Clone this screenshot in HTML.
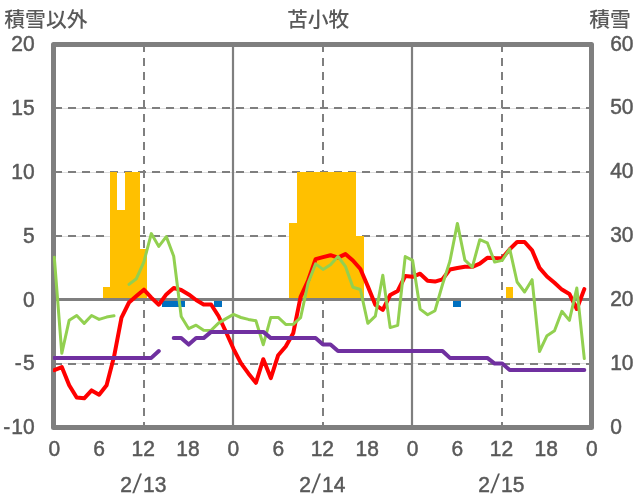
<!DOCTYPE html>
<html lang="ja">
<head>
<meta charset="utf-8">
<title>苫小牧</title>
<style>
html,body{margin:0;padding:0;background:#fff;}
body{width:636px;height:501px;overflow:hidden;font-family:"Liberation Sans","Noto Sans CJK JP",sans-serif;}
svg{display:block;}
</style>
</head>
<body>
<svg width="636" height="501" viewBox="0 0 636 501">
<rect width="636" height="501" fill="#fff"/>
<line x1="54" x2="591" y1="108.5" y2="108.5" stroke="#dedede" stroke-width="1"/>
<line x1="54" x2="591" y1="108" y2="108" stroke="#7f7f7f" stroke-width="2" stroke-dasharray="8 6"/>
<line x1="54" x2="591" y1="172.5" y2="172.5" stroke="#dedede" stroke-width="1"/>
<line x1="54" x2="591" y1="172" y2="172" stroke="#7f7f7f" stroke-width="2" stroke-dasharray="8 6"/>
<line x1="54" x2="591" y1="236.5" y2="236.5" stroke="#dedede" stroke-width="1"/>
<line x1="54" x2="591" y1="236" y2="236" stroke="#7f7f7f" stroke-width="2" stroke-dasharray="8 6"/>
<line x1="54" x2="591" y1="363.5" y2="363.5" stroke="#dedede" stroke-width="1"/>
<line x1="54" x2="591" y1="364" y2="364" stroke="#7f7f7f" stroke-width="2" stroke-dasharray="8 6"/>
<line x1="144" x2="144" y1="44" y2="427" stroke="#7f7f7f" stroke-width="2" stroke-dasharray="8 6"/>
<line x1="323" x2="323" y1="44" y2="427" stroke="#7f7f7f" stroke-width="2" stroke-dasharray="8 6"/>
<line x1="502" x2="502" y1="44" y2="427" stroke="#7f7f7f" stroke-width="2" stroke-dasharray="8 6"/>
<line x1="233" x2="233" y1="44" y2="427" stroke="#7f7f7f" stroke-width="2.2"/>
<line x1="412" x2="412" y1="44" y2="427" stroke="#7f7f7f" stroke-width="2.2"/>
<path d="M103,300H110V287H103ZM110,300H117V172H110ZM117,300H125V210H117ZM125,300H132V172H125ZM132,300H140V172H132ZM140,300H147V249H140ZM289,300H297V223H289ZM297,300H304V172H297ZM304,300H312V172H304ZM312,300H319V172H312ZM319,300H326V172H319ZM326,300H334V172H326ZM334,300H341V172H334ZM341,300H349V172H341ZM349,300H356V172H349ZM356,300H364V236H356ZM506,300H513V287H506Z" fill="#ffc000"/>
<path d="M162,300H170V307H162ZM170,300H177V307H170ZM177,300H185V307H177ZM214,300H222V307H214ZM453,300H461V307H453Z" fill="#0070c0"/>
<line x1="54" x2="591" y1="299.5" y2="299.5" stroke="#7f7f7f" stroke-width="3"/>
<rect x="53.5" y="44.5" width="538" height="383" fill="none" stroke="#7f7f7f" stroke-width="5" stroke-linejoin="round"/>
<clipPath id="pc"><rect x="53" y="42" width="541" height="388"/></clipPath>
<g clip-path="url(#pc)">
<path d="M54.3,370.2 L61.8,367.1 L69.2,385.2 L76.7,397.5 L84.2,398.3 L91.6,390.4 L99.1,394.7 L106.6,385.2 L114.0,356.8 L121.5,317.6 L129.0,302.5 L136.4,296.0 L143.9,289.7 L151.3,297.6 L158.8,304.7 L166.3,294.4 L173.7,288.0 L181.2,290.0 L188.7,294.4 L196.1,300.0 L203.6,304.4 L211.1,304.5 L218.5,316.0 L226.0,332.0 L233.5,348.8 L240.9,363.1 L248.4,373.4 L255.9,382.8 L263.3,359.2 L270.8,378.1 L278.2,355.2 L285.7,346.5 L293.2,333.3 L300.6,296.8 L308.1,280.5 L315.6,259.2 L323.0,257.1 L330.5,255.2 L338.0,257.6 L345.4,254.1 L352.9,260.5 L360.4,269.0 L367.8,286.2 L375.3,304.8 L382.8,309.9 L390.2,295.0 L397.7,291.0 L405.2,276.0 L412.6,276.8 L420.1,273.7 L427.6,280.8 L435.0,281.6 L442.5,279.3 L449.9,269.5 L457.4,268.0 L464.9,266.8 L472.3,266.8 L479.8,263.6 L487.3,257.8 L494.7,258.1 L502.2,258.2 L509.7,249.2 L517.1,242.0 L524.6,242.0 L532.1,250.4 L539.5,267.9 L547.0,276.5 L554.5,282.8 L561.9,289.6 L569.4,293.9 L576.8,309.0 L584.3,289.1" fill="none" stroke="#ff0000" stroke-width="4" stroke-linejoin="round" stroke-linecap="round"/>
<path d="M54.3,257.2 L61.8,353.3 L69.2,320.2 L76.7,315.5 L84.2,323.4 L91.6,315.5 L99.1,319.4 L106.6,317.1 L114.0,315.8 M129.0,284.4 L136.4,278.7 L143.9,261.8 L151.3,233.6 L158.8,246.4 L166.3,236.6 L173.7,256.2 L181.2,316.5 L188.7,328.7 L196.1,325.2 L203.6,330.2 L211.1,330.4 L218.5,323.1 L226.0,318.6 L233.5,314.4 L240.9,317.5 L248.4,319.4 L255.9,320.7 L263.3,344.7 L270.8,317.4 L278.2,317.4 L285.7,324.4 L293.2,324.3 L300.6,317.7 L308.1,283.0 L315.6,263.9 L323.0,269.4 L330.5,264.7 L338.0,256.5 L345.4,266.3 L352.9,287.3 L360.4,289.5 L367.8,323.3 L375.3,316.2 L382.8,275.2 L390.2,327.6 L397.7,325.4 L405.2,256.6 L412.6,260.3 L420.1,309.1 L427.6,314.7 L435.0,310.7 L442.5,284.5 L449.9,261.3 L457.4,223.4 L464.9,260.2 L472.3,267.1 L479.8,239.7 L487.3,242.8 L494.7,262.1 L502.2,260.4 L509.7,248.8 L517.1,282.0 L524.6,292.0 L532.1,279.7 L539.5,351.5 L547.0,335.7 L554.5,330.7 L561.9,311.3 L569.4,320.4 L576.8,288.0 L584.3,358.6" fill="none" stroke="#92d050" stroke-width="3" stroke-linejoin="round" stroke-linecap="round"/>
<path d="M54.3,357.9 L61.8,357.9 L69.2,357.9 L76.7,357.9 L84.2,357.9 L91.6,357.9 L99.1,357.9 L106.6,357.9 L114.0,357.9 L121.5,357.9 L129.0,357.9 L136.4,357.9 L143.9,357.9 L151.3,357.9 L158.8,351.0 M173.7,338.1 L181.2,338.1 L188.7,344.6 L196.1,338.1 L203.6,338.1 L211.1,331.9 L218.5,331.9 L226.0,331.9 L233.5,331.9 L240.9,331.9 L248.4,331.9 L255.9,331.9 L263.3,331.9 L270.8,338.1 L278.2,338.1 L285.7,338.1 L293.2,338.1 L300.6,338.1 L308.1,338.1 L315.6,338.1 L323.0,344.6 L330.5,344.6 L338.0,351.0 L345.4,351.0 L352.9,351.0 L360.4,351.0 L367.8,351.0 L375.3,351.0 L382.8,351.0 L390.2,351.0 L397.7,351.0 L405.2,351.0 L412.6,351.0 L420.1,351.0 L427.6,351.0 L435.0,351.0 L442.5,351.0 L449.9,357.9 L457.4,357.9 L464.9,357.9 L472.3,357.9 L479.8,357.9 L487.3,357.9 L494.7,363.6 L502.2,363.6 L509.7,370.0 L517.1,370.0 L524.6,370.0 L532.1,370.0 L539.5,370.0 L547.0,370.0 L554.5,370.0 L561.9,370.0 L569.4,370.0 L576.8,370.0 L584.3,370.0" fill="none" stroke="#7030a0" stroke-width="4" stroke-linejoin="round" stroke-linecap="round"/>
</g>
<g font-family="'Liberation Sans', 'Noto Sans CJK JP', sans-serif" font-size="20.8" font-weight="500" fill="#595959">
<text x="4.3" y="26.7">積雪以外</text>
<text x="318.2" y="26.7" text-anchor="middle">苫小牧</text>
<text x="630.8" y="26.7" text-anchor="end">積雪</text>
</g>
<g font-family="'Liberation Sans', 'Noto Sans CJK JP', sans-serif" font-size="22.7" fill="#595959" stroke="#595959" stroke-width="0.5" stroke-linejoin="round">
<text transform="translate(34.60,51.25) scale(0.925,1)" text-anchor="end">20</text>
<text transform="translate(34.60,115.08) scale(0.925,1)" text-anchor="end">15</text>
<text transform="translate(34.60,178.92) scale(0.925,1)" text-anchor="end">10</text>
<text transform="translate(34.60,242.75) scale(0.925,1)" text-anchor="end">5</text>
<text transform="translate(34.60,306.58) scale(0.925,1)" text-anchor="end">0</text>
<text transform="translate(34.60,370.42) scale(0.925,1)" text-anchor="end">-<tspan dx="1.2">5</tspan></text>
<text transform="translate(34.60,434.25) scale(0.925,1)" text-anchor="end">-<tspan dx="1.2">10</tspan></text>
<text transform="translate(610.20,50.65) scale(0.925,1)" text-anchor="start">60</text>
<text transform="translate(610.20,114.48) scale(0.925,1)" text-anchor="start">50</text>
<text transform="translate(610.20,178.32) scale(0.925,1)" text-anchor="start">40</text>
<text transform="translate(610.20,242.15) scale(0.925,1)" text-anchor="start">30</text>
<text transform="translate(610.20,305.98) scale(0.925,1)" text-anchor="start">20</text>
<text transform="translate(610.20,369.75) scale(0.925,1)" text-anchor="start">10</text>
<text transform="translate(610.20,433.65) scale(0.925,1)" text-anchor="start">0</text>
<text transform="translate(54.30,455.80) scale(0.925,1)" text-anchor="middle">0</text>
<text transform="translate(99.09,455.80) scale(0.925,1)" text-anchor="middle">6</text>
<text transform="translate(143.18,455.80) scale(0.925,1)" text-anchor="middle">12</text>
<text transform="translate(187.97,455.80) scale(0.925,1)" text-anchor="middle">18</text>
<text transform="translate(233.46,455.80) scale(0.925,1)" text-anchor="middle">0</text>
<text transform="translate(278.25,455.80) scale(0.925,1)" text-anchor="middle">6</text>
<text transform="translate(322.34,455.80) scale(0.925,1)" text-anchor="middle">12</text>
<text transform="translate(367.13,455.80) scale(0.925,1)" text-anchor="middle">18</text>
<text transform="translate(412.62,455.80) scale(0.925,1)" text-anchor="middle">0</text>
<text transform="translate(457.41,455.80) scale(0.925,1)" text-anchor="middle">6</text>
<text transform="translate(501.50,455.80) scale(0.925,1)" text-anchor="middle">12</text>
<text transform="translate(546.29,455.80) scale(0.925,1)" text-anchor="middle">18</text>
<text transform="translate(591.78,455.80) scale(0.925,1)" text-anchor="middle">0</text>
<text transform="translate(131.90,491.50) scale(0.925,1)" text-anchor="end">2</text>
<text transform="translate(135.70,493.1) skewX(-8) scale(0.925,1)" text-anchor="middle" font-size="27" stroke="none">/</text>
<text transform="translate(143.10,491.50) scale(0.925,1)" text-anchor="start">13</text>
<text transform="translate(310.90,491.50) scale(0.925,1)" text-anchor="end">2</text>
<text transform="translate(314.70,493.1) skewX(-8) scale(0.925,1)" text-anchor="middle" font-size="27" stroke="none">/</text>
<text transform="translate(322.10,491.50) scale(0.925,1)" text-anchor="start">14</text>
<text transform="translate(489.90,491.50) scale(0.925,1)" text-anchor="end">2</text>
<text transform="translate(493.70,493.1) skewX(-8) scale(0.925,1)" text-anchor="middle" font-size="27" stroke="none">/</text>
<text transform="translate(501.10,491.50) scale(0.925,1)" text-anchor="start">15</text>
</g>
</svg>
</body>
</html>
